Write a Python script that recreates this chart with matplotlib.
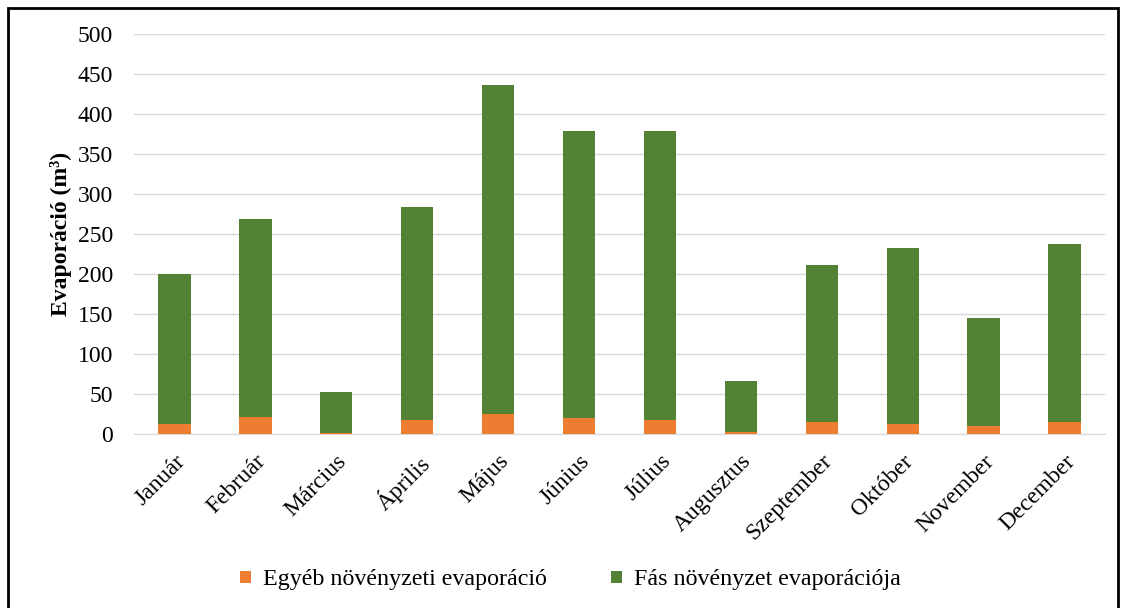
import numpy as np
import matplotlib.pyplot as plt
from matplotlib.patches import Rectangle

plt.rcParams['font.family'] = ['Liberation Serif', 'DejaVu Serif']

months = ['Január', 'Február', 'Március', 'Április', 'Május', 'Június',
          'Július', 'Augusztus', 'Szeptember', 'Október', 'November', 'December']
egyeb = [12.5, 21, 1.5, 17, 25, 20, 17, 3, 15.5, 12.5, 9.5, 15.5]
fas = [188, 248, 51, 267, 411, 359, 362, 63, 196, 220, 136, 222]

fig = plt.figure(figsize=(11.25, 6.08), dpi=100)
ax = fig.add_axes([134 / 1125, 1 - 434 / 608, 971 / 1125, 400 / 608])

x = np.arange(len(months))
ax.bar(x, egyeb, width=0.4, color='#ED7D31', label='Egyéb növényzeti evaporáció', zorder=3)
ax.bar(x, fas, width=0.4, bottom=egyeb, color='#548235', label='Fás növényzet evaporációja', zorder=3)

ax.set_ylim(0, 500)
ax.set_xlim(-0.5, len(months) - 0.5)
ax.set_yticks(range(0, 501, 50))
ax.set_xticks(x)
ax.set_xticklabels(months, rotation=45, ha='right', rotation_mode='anchor')
ax.tick_params(axis='both', length=0, labelsize=17)
ax.tick_params(axis='y', pad=15)
ax.tick_params(axis='x', pad=12)
ax.grid(axis='y', color='#d9d9d9', linewidth=1, zorder=0)
for s in ['top', 'right', 'left']:
    ax.spines[s].set_visible(False)
ax.spines['bottom'].set_color('#d9d9d9')
ax.set_ylabel('Evaporáció (m³)', fontsize=17, fontweight='bold', labelpad=4)

fig.legend(loc='center', bbox_to_anchor=(0.507, 1 - 580 / 608), ncol=2, frameon=False,
           fontsize=17.3, handlelength=0.43, handleheight=0.43, columnspacing=2.7, handletextpad=0.5)

fig.patches.append(Rectangle((8 / 1125, -0.05), 1110 / 1125, 1 - 8 / 608 + 0.05,
                             transform=fig.transFigure, fill=False, edgecolor='black', linewidth=2))

fig.savefig('out.png', dpi=100)
